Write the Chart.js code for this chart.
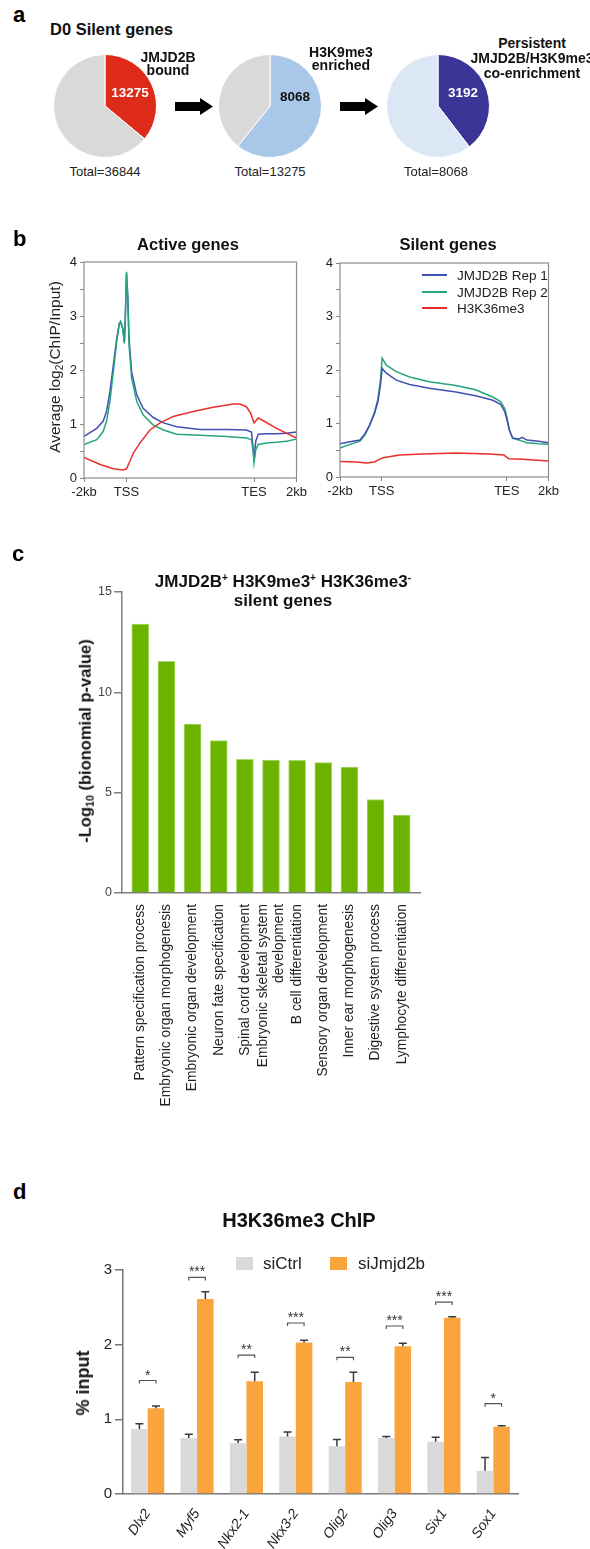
<!DOCTYPE html>
<html>
<head>
<meta charset="utf-8">
<script src="https://cdn.jsdelivr.net/npm/chart.js@4.4.0/dist/chart.umd.min.js"></script>
<style>
  body { margin: 0; background: #fff; }
  #page { position: relative; width: 590px; height: 1549px; overflow: hidden;
          font-family: "Liberation Sans", Arial, sans-serif; color: #222; }
  canvas { position: absolute; }
  .t { position: absolute; white-space: nowrap; line-height: 1; }
  .rot { position: absolute; white-space: nowrap; line-height: 1;
         transform: translate(-50%, -50%) rotate(-90deg); }
  sup { font-size: 0.6em; line-height: 0; vertical-align: 0.55em; }
  sub { font-size: 0.65em; line-height: 0; vertical-align: -0.3em; }
  .key { position: absolute; }
</style>
</head>
<body>
<div id="page">
  <svg style="position:absolute;left:0;top:0" width="590" height="190">
    <polygon points="175,102 200,102 200,98 213,106.5 200,115 200,111 175,111" fill="#000"/>
    <polygon points="340,102 365,102 365,98 378,106.5 365,115 365,111 340,111" fill="#000"/>
  </svg>
  <canvas id="pie1" width="104" height="104" style="left:53px;top:54px"></canvas>
  <canvas id="pie2" width="104" height="104" style="left:218px;top:54px"></canvas>
  <canvas id="pie3" width="104" height="104" style="left:386px;top:54px"></canvas>

  <canvas id="activeChart" width="310" height="255" style="left:0px;top:250px"></canvas>
  <canvas id="silentChart" width="262" height="255" style="left:300px;top:250px"></canvas>
  <div class="rot" style="left:55px;top:367px;font-size:15.5px">Average log<sub>2</sub>(ChIP/Input)</div>
  <div class="key" style="left:422px;top:274px;width:25px;height:2px;background:#3f4fb3"></div>
  <div class="key" style="left:422px;top:291px;width:25px;height:2px;background:#26a47c"></div>
  <div class="key" style="left:422px;top:307px;width:25px;height:2px;background:#e8302a"></div>

  <canvas id="goChart" width="340" height="530" style="left:90px;top:580px"></canvas>
  <div class="rot" style="left:85px;top:741px;font-size:16.5px;font-weight:bold;color:#111">-Log<sub>10</sub> (bionomial p-value)</div>

  <canvas id="chipChart" width="440" height="299" style="left:90px;top:1250px"></canvas>
  <div class="rot" style="left:83px;top:1383px;font-size:18px;font-weight:bold;color:#111">% input</div>
  <div class="key" style="left:236px;top:1257px;width:17px;height:13px;background:#d9d9d9"></div>
  <div class="key" style="left:330px;top:1257px;width:17px;height:13px;background:#f9a43c"></div>
</div>
<script>
// ---- panel a: pies
const pieTotals = [36844, 13275, 8068];
const pieSubsets = [13275, 8068, 3192];
const pieColors = [["#dd2a19", "#d9d9d9"], ["#a9c7e9", "#d9d9d9"], ["#3a3597", "#dce7f6"]];

// ---- panel b: metagene profiles (x in units: 0=-2kb, 1=TSS, 4=TES, 5=2kb)
const bTickPos = [0, 1, 4, 5];
const bTickLabels = ["-2kb", "TSS", "TES", "2kb"];
const bSeriesNames = ["JMJD2B Rep 1", "JMJD2B Rep 2", "H3K36me3"];

const activeX = [0, 0.3, 0.45, 0.53, 0.61, 0.69, 0.77, 0.83, 0.86, 0.91, 0.95, 0.97, 1.0, 1.03, 1.06, 1.12, 1.24, 1.39, 1.63, 1.87, 2.18, 2.73, 3.35, 3.82, 3.94, 3.98, 4.0, 4.04, 4.1, 4.29, 4.53, 4.76, 5.0];
const activeRep1 = [0.77, 0.92, 1.05, 1.23, 1.6, 2.09, 2.58, 2.86, 2.89, 2.77, 2.52, 2.89, 3.78, 3.38, 2.58, 1.97, 1.54, 1.29, 1.12, 1.02, 0.95, 0.9, 0.9, 0.89, 0.85, 0.55, 0.31, 0.68, 0.81, 0.82, 0.82, 0.83, 0.85];
const activeRep2 = [0.62, 0.71, 0.86, 1.05, 1.42, 1.97, 2.52, 2.86, 2.9, 2.78, 2.49, 2.95, 3.82, 3.32, 2.46, 1.85, 1.42, 1.17, 0.98, 0.89, 0.81, 0.79, 0.77, 0.74, 0.71, 0.49, 0.28, 0.52, 0.62, 0.65, 0.66, 0.68, 0.72];
const activeK36X = [0, 0.38, 0.69, 0.92, 1.0, 1.08, 1.16, 1.32, 1.55, 1.79, 2.1, 2.57, 3.04, 3.51, 3.67, 3.82, 3.92, 4.0, 4.1, 4.22, 4.53, 4.76, 5.0];
const activeK36 = [0.38, 0.25, 0.17, 0.15, 0.17, 0.31, 0.46, 0.65, 0.89, 1.02, 1.14, 1.23, 1.31, 1.37, 1.37, 1.32, 1.2, 1.02, 1.11, 1.06, 0.92, 0.83, 0.74];

const silentX = [0, 0.24, 0.48, 0.6, 0.71, 0.83, 0.91, 0.97, 1.01, 1.11, 1.35, 1.67, 2.14, 2.78, 3.25, 3.65, 3.85, 3.95, 4.0, 4.06, 4.14, 4.29, 4.37, 4.48, 4.76, 5.0];
const silentRep1 = [0.62, 0.66, 0.69, 0.81, 0.97, 1.19, 1.41, 1.72, 2.03, 1.94, 1.81, 1.73, 1.66, 1.59, 1.52, 1.44, 1.36, 1.22, 1.08, 0.88, 0.73, 0.71, 0.74, 0.69, 0.67, 0.64];
const silentRep2 = [0.54, 0.61, 0.67, 0.79, 0.97, 1.22, 1.46, 1.81, 2.22, 2.09, 1.97, 1.87, 1.78, 1.71, 1.63, 1.5, 1.41, 1.28, 1.13, 0.88, 0.72, 0.69, 0.67, 0.64, 0.62, 0.61];
const silentK36X = [0, 0.4, 0.63, 0.83, 0.94, 1.03, 1.43, 1.98, 2.78, 3.57, 3.93, 4.05, 4.37, 5.0];
const silentK36 = [0.29, 0.28, 0.26, 0.28, 0.33, 0.36, 0.41, 0.43, 0.45, 0.43, 0.41, 0.34, 0.33, 0.3];

// ---- panel c: GO terms
const goTerms = ["Pattern specification process", "Embryonic organ morphogenesis", "Embryonic organ development",
  "Neuron fate specification", "Spinal cord development", ["Embryonic skeletal system", "development"],
  "B cell differentiation", "Sensory organ development", "Inner ear morphogenesis",
  "Digestive system process", "Lymphocyte differentiation"];
const goValues = [13.4, 11.55, 8.42, 7.6, 6.66, 6.63, 6.61, 6.5, 6.27, 4.66, 3.88];

// ---- panel d: H3K36me3 ChIP
const genes = ["Dlx2", "Myf5", "Nkx2-1", "Nkx3-2", "Olig2", "Olig3", "Six1", "Sox1"];
const ctrlMean = [0.87, 0.75, 0.68, 0.77, 0.64, 0.75, 0.70, 0.31];
const ctrlErr = [0.07, 0.05, 0.045, 0.06, 0.09, 0.02, 0.06, 0.18];
const kdMean = [1.15, 2.61, 1.51, 2.03, 1.50, 1.98, 2.36, 0.90];
const kdErr = [0.03, 0.10, 0.12, 0.03, 0.13, 0.04, 0.015, 0.015];
const sigY = [1.52, 2.90, 1.86, 2.29, 1.83, 2.25, 2.57, 1.21];
const sigLabel = ["*", "***", "**", "***", "**", "***", "***", "*"];

Chart.defaults.font.family = '"Liberation Sans", Arial, sans-serif';
Chart.defaults.color = "#222";
Chart.defaults.animation = false;
Chart.defaults.responsive = false;
Chart.defaults.devicePixelRatio = 1;
Chart.defaults.plugins.legend.display = false;
Chart.defaults.plugins.tooltip.enabled = false;

// pies
["pie1", "pie2", "pie3"].forEach((id, i) => {
  new Chart(document.getElementById(id), {
    type: "pie",
    data: {
      datasets: [{
        data: [pieSubsets[i], pieTotals[i] - pieSubsets[i]],
        backgroundColor: pieColors[i],
        borderColor: "#fff",
        borderWidth: 1
      }]
    }
  });
});

// box round the profile plots
const frame = {
  id: "frame",
  afterDraw(chart) {
    const { ctx, chartArea: a } = chart;
    ctx.save();
    ctx.strokeStyle = "#8c8c8c";
    ctx.lineWidth = 1.2;
    ctx.strokeRect(a.left, a.top, a.right - a.left, a.bottom - a.top);
    ctx.restore();
  }
};

function pts(xs, ys) {
  return xs.map((x, i) => ({ x: x, y: ys[i] }));
}

function profile(id, series, yWidth, pad, xHeight) {
  new Chart(document.getElementById(id), {
    type: "line",
    data: {
      datasets: series.map(s => ({
        label: s.name,
        data: s.data,
        borderColor: s.color,
        borderWidth: 1.5,
        pointRadius: 0,
        tension: 0
      }))
    },
    options: {
      layout: { padding: pad },
      scales: {
        x: {
          type: "linear", min: 0, max: 5,
          afterBuildTicks: s => { s.ticks = bTickPos.map(v => ({ value: v })); },
          afterFit: s => { s.height = xHeight; },
          ticks: { autoSkip: false, maxRotation: 0, padding: 3, font: { size: 13 },
                   callback: (v, i) => bTickLabels[i] },
          grid: { drawOnChartArea: false, tickLength: 4, color: "#888" },
          border: { display: false }
        },
        y: {
          min: 0, max: 4,
          afterFit: s => { s.width = yWidth; },
          ticks: { stepSize: 0.5, padding: 3, font: { size: 13 },
                   callback: v => Number.isInteger(v) ? v : "" },
          grid: { drawOnChartArea: false, tickLength: 4, color: "#888" },
          border: { display: false }
        }
      }
    },
    plugins: [frame]
  });
}

profile("activeChart", [
  { name: bSeriesNames[2], data: pts(activeK36X, activeK36), color: "#e8302a" },
  { name: bSeriesNames[1], data: pts(activeX, activeRep2), color: "#26a47c" },
  { name: bSeriesNames[0], data: pts(activeX, activeRep1), color: "#3f4fb3" }
], 84, { top: 12, right: 13 }, 27);

profile("silentChart", [
  { name: bSeriesNames[2], data: pts(silentK36X, silentK36), color: "#e8302a" },
  { name: bSeriesNames[0], data: pts(silentX, silentRep1), color: "#3f4fb3" },
  { name: bSeriesNames[1], data: pts(silentX, silentRep2), color: "#26a47c" }
], 40, { top: 13, right: 12 }, 28);

// GO bars; a two-line label gets its tick pulled back half a line so the pair centres on the bar
new Chart(document.getElementById("goChart"), {
  type: "bar",
  data: {
    datasets: [{
      data: goValues.map((v, i) => ({ x: i, y: v })),
      backgroundColor: "#6cb300",
      borderColor: "#a9d96c",
      borderWidth: 1,
      barThickness: 17
    }]
  },
  options: {
    layout: { padding: { top: 12, right: 10 } },
    scales: {
      x: {
        type: "linear", min: -0.7, max: 10.7, offset: false,
        afterBuildTicks: s => {
          s.ticks = goTerms.map((t, i) => ({ value: Array.isArray(t) ? i - 0.31 : i }));
        },
        afterFit: s => { s.height = 217; },
        ticks: { autoSkip: false, minRotation: 90, maxRotation: 90, padding: 3,
                 font: { size: 13.8 }, color: "#222", callback: (v, i) => goTerms[i] },
        grid: { display: false, offset: false },
        border: { color: "#808080", width: 1.5 }
      },
      y: {
        min: 0, max: 15,
        afterFit: s => { s.width = 32; },
        ticks: { stepSize: 5, padding: 2, font: { size: 12.5 }, color: "#444" },
        grid: { drawOnChartArea: false, tickLength: 8, color: "#808080", lineWidth: 1.5 },
        border: { color: "#808080", width: 1.5 }
      }
    }
  }
});

// error bars, brackets and stars
const annotate = {
  id: "annotate",
  afterDatasetsDraw(chart) {
    const { ctx } = chart;
    const y = chart.scales.y;
    const m0 = chart.getDatasetMeta(0), m1 = chart.getDatasetMeta(1);
    ctx.save();
    ctx.strokeStyle = "#3a3a3a";
    ctx.lineWidth = 1.5;
    [[m0, ctrlMean, ctrlErr], [m1, kdMean, kdErr]].forEach(([meta, mean, err]) => {
      meta.data.forEach((bar, i) => {
        const top = y.getPixelForValue(mean[i] + err[i]);
        ctx.beginPath();
        ctx.moveTo(bar.x, bar.y);
        ctx.lineTo(bar.x, top);
        ctx.moveTo(bar.x - 4, top);
        ctx.lineTo(bar.x + 4, top);
        ctx.stroke();
      });
    });
    ctx.strokeStyle = "#555";
    ctx.lineWidth = 1.2;
    ctx.fillStyle = "#333";
    ctx.font = '14px "Liberation Sans", Arial, sans-serif';
    ctx.textAlign = "center";
    ctx.textBaseline = "alphabetic";
    genes.forEach((g, i) => {
      const x0 = m0.data[i].x, x1 = m1.data[i].x;
      const yy = y.getPixelForValue(sigY[i]);
      ctx.beginPath();
      ctx.moveTo(x0, yy + 3);
      ctx.lineTo(x0, yy);
      ctx.lineTo(x1, yy);
      ctx.lineTo(x1, yy + 3);
      ctx.stroke();
      ctx.fillText(sigLabel[i], (x0 + x1) / 2, yy - 1);
    });
    ctx.restore();
  }
};

new Chart(document.getElementById("chipChart"), {
  type: "bar",
  data: {
    labels: genes,
    datasets: [
      { label: "siCtrl", data: ctrlMean, backgroundColor: "#d9d9d9" },
      { label: "siJmjd2b", data: kdMean, backgroundColor: "#f9a43c" }
    ]
  },
  options: {
    layout: { padding: { top: 20, right: 12 } },
    datasets: { bar: { categoryPercentage: 0.67, barPercentage: 1.0 } },
    scales: {
      x: {
        afterFit: s => { s.height = 55; },
        ticks: { autoSkip: false, minRotation: 55, maxRotation: 55, padding: 4,
                 font: { size: 14, style: "italic" }, color: "#222" },
        grid: { display: false },
        border: { color: "#777", width: 1.5 }
      },
      y: {
        min: 0, max: 3,
        afterFit: s => { s.width = 33; },
        ticks: { stepSize: 1, padding: 3, font: { size: 15 }, color: "#222" },
        grid: { drawOnChartArea: false, tickLength: 8, color: "#777", lineWidth: 1.5 },
        border: { color: "#777", width: 1.5 }
      }
    }
  },
  plugins: [annotate]
});

// ---- text labels: [html, x, baseline, size, bold, align, color]
const texts = [
  ["a", 13, 23, 22, true, "left", "#000"],
  ["D0 Silent genes", 50, 35, 16.5, true, "left", "#111"],
  ["JMJD2B", 168, 62, 14, true, "center", "#111"],
  ["bound", 168, 75, 14, true, "center", "#111"],
  ["13275", 130, 97, 13.5, true, "center", "#fff"],
  ["Total=36844", 105, 176, 13, false, "center", "#222"],
  ["H3K9me3", 341, 57, 14, true, "center", "#111"],
  ["enriched", 341, 70, 14, true, "center", "#111"],
  ["8068", 295, 101, 13.5, true, "center", "#111"],
  ["Total=13275", 270, 176, 13, false, "center", "#222"],
  ["Persistent", 532, 48, 14, true, "center", "#111"],
  ["JMJD2B/H3K9me3", 532, 63, 14, true, "center", "#111"],
  ["co-enrichment", 532, 78, 14, true, "center", "#111"],
  ["3192", 463, 97, 13.5, true, "center", "#fff"],
  ["Total=8068", 436, 176, 13, false, "center", "#222"],

  ["b", 13, 247, 22, true, "left", "#000"],
  ["Active genes", 188, 250, 16.5, true, "center", "#111"],
  ["Silent genes", 448, 250, 16.5, true, "center", "#111"],
  [bSeriesNames[0], 457, 280, 13.5, false, "left", "#222"],
  [bSeriesNames[1], 457, 297, 13.5, false, "left", "#222"],
  [bSeriesNames[2], 457, 313, 13.5, false, "left", "#222"],

  ["c", 12, 562, 22, true, "left", "#000"],
  ["JMJD2B<sup>+</sup> H3K9me3<sup>+</sup> H3K36me3<sup>-</sup>", 283, 587, 17, true, "center", "#111"],
  ["silent genes", 283, 606, 17, true, "center", "#111"],

  ["d", 13, 1200, 22, true, "left", "#000"],
  ["H3K36me3 ChIP", 299, 1227, 20, true, "center", "#111"],
  ["siCtrl", 263, 1269, 17, false, "left", "#222"],
  ["siJmjd2b", 358, 1269, 17, false, "left", "#222"]
];

const page = document.getElementById("page");
texts.forEach(([html, x, base, size, bold, align, color]) => {
  const d = document.createElement("div");
  d.className = "t";
  d.innerHTML = html;
  d.style.fontSize = size + "px";
  d.style.fontWeight = bold ? "bold" : "normal";
  d.style.color = color;
  d.style.left = x + "px";
  d.style.top = (base - 0.8465 * size) + "px";
  if (align === "center") d.style.transform = "translateX(-50%)";
  page.appendChild(d);
});
</script>
</body>
</html>
